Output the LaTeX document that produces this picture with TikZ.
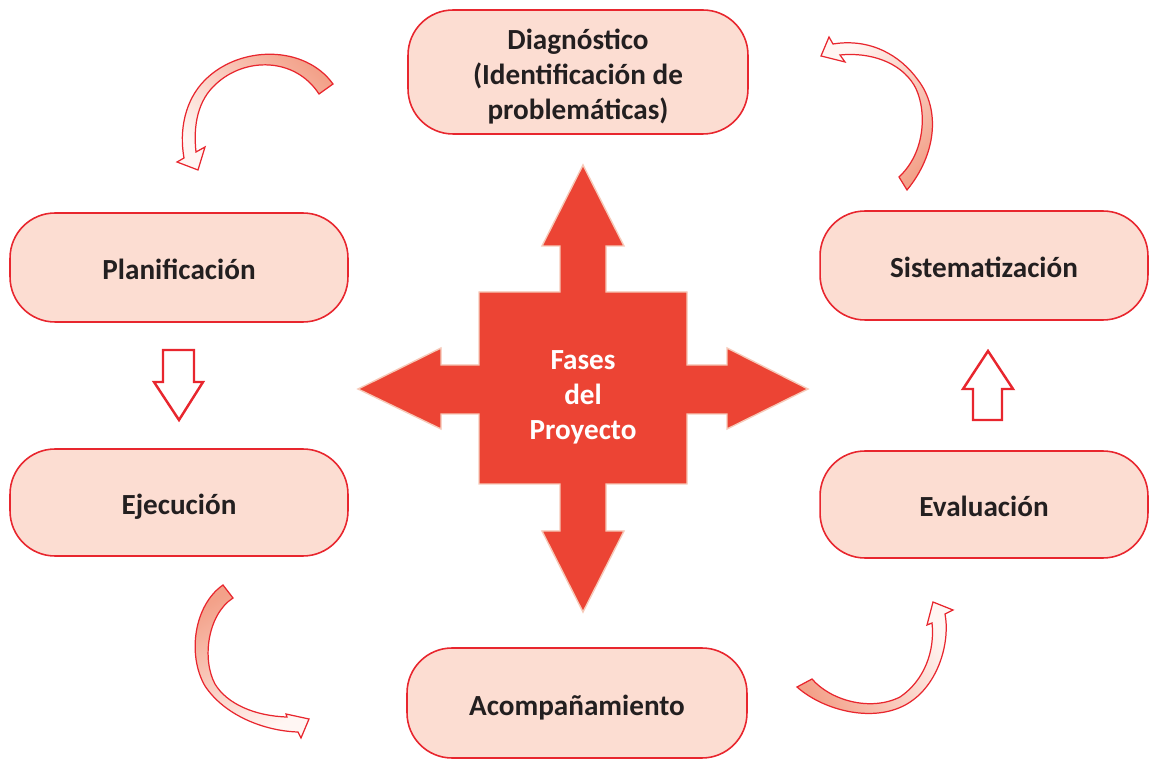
\documentclass[tikz,border=0pt]{standalone}
\usepackage{fontspec}
\setmainfont{Carlito}
\definecolor{boxred}{HTML}{E8262E}
\definecolor{boxfill}{HTML}{FCDDD2}
\definecolor{crossred}{HTML}{EC4434}
\definecolor{crossedge}{HTML}{F6C9B8}
\definecolor{salmon}{HTML}{F3A189}
\definecolor{paleend}{HTML}{FFF6F3}
\definecolor{textdark}{HTML}{231F20}
% set a (possibly multi-line) label a little below the box centre
\newcommand\phasetext[1]{\raisebox{-3pt}[\height][\depth]{\begin{tabular}{@{}c@{}}#1\end{tabular}}}
\tikzset{
  phase/.style={draw=boxred, fill=boxfill, line width=0.9pt, rounded corners=0.9cm,
    text=textdark, font=\bfseries\fontsize{16.6}{19.8}\selectfont, inner sep=0pt},
  hub/.style={text=white, font=\bfseries\fontsize{16.6}{19.8}\selectfont, inner sep=0pt},
  crossarrow/.style={fill=crossred, draw=crossedge, line width=0.8pt, line join=miter},
  hollow/.style={draw=boxred, fill=white, line width=1.4pt, line join=miter},
  curvearrow/.style={draw=boxred, line width=0.7pt, line join=miter},
}
\begin{document}
\begin{tikzpicture}[x=0.02cm, y=-0.02cm]
\useasboundingbox (0,0) rectangle (1149,759);

% phase boxes
\node[phase, minimum width=6.8cm, minimum height=2.48cm] (diag) at (578,72)
  {\phasetext{Diagnóstico\\(Identificación de\\problemáticas)}};
\node[phase, minimum width=6.76cm, minimum height=2.18cm] (plan) at (179,267.5) {\phasetext{Planificación}};
\node[phase, minimum width=6.76cm, minimum height=2.14cm] (ejec) at (179,502.5) {\phasetext{Ejecución}};
\node[phase, minimum width=6.8cm, minimum height=2.2cm] (acomp) at (577,703) {\phasetext{Acompañamiento}};
\node[phase, minimum width=6.56cm, minimum height=2.18cm] (sist) at (984,265.5) {\phasetext{Sistematización}};
\node[phase, minimum width=6.56cm, minimum height=2.14cm] (eval) at (984,504.5) {\phasetext{Evaluación}};

% central four-way arrow
\draw[crossarrow]
  (583,165) -- (624,246) -- (606,246) -- (606,292) -- (687,292) -- (687,365)
  -- (727,365) -- (727,348) -- (808,389) -- (727,429) -- (727,414) -- (687,414)
  -- (687,484) -- (606,484) -- (606,531) -- (624,531) -- (583,612) -- (542,531)
  -- (560,531) -- (560,484) -- (479,484) -- (479,414) -- (441,414) -- (441,429)
  -- (358,389) -- (441,348) -- (441,365) -- (479,365) -- (479,292) -- (560,292)
  -- (560,246) -- (542,246) -- cycle;
\node[hub] (hub) at (583,392) {\phasetext{Fases\\del\\Proyecto}};

% hollow block arrows
\draw[hollow] (163,350) -- (194,350) -- (194,382) -- (203,382) -- (179,420)
  -- (154,382) -- (163,382) -- cycle;
\draw[hollow] (973,420) -- (1002,420) -- (1002,389) -- (1013,389) -- (988,351)
  -- (963,389) -- (973,389) -- cycle;

% curved arrows
\draw[curvearrow, top color=salmon, bottom color=paleend, shading angle=-45]
  (333,84) .. controls (305,45) and (240,45) .. (205,80)
  .. controls (185,100) and (179,130) .. (184,158)
  -- (177,162) -- (198,170) -- (205,147) -- (196,152)
  .. controls (193,125) and (198,100) .. (216,84)
  .. controls (245,57) and (295,57) .. (319,94) -- cycle;

\draw[curvearrow, top color=salmon, bottom color=paleend, shading angle=-135]
  (907,190) .. controls (936,155) and (941,110) .. (918,80)
  .. controls (900,55) and (870,38) .. (833,44)
  -- (829,37) -- (821,56) -- (845,62) -- (840,55)
  .. controls (870,52) and (900,62) .. (914,85)
  .. controls (926,105) and (928,150) .. (899,177) -- cycle;

\draw[curvearrow, top color=salmon, bottom color=paleend, shading angle=30]
  (223,585) .. controls (194,605) and (187,655) .. (205,686)
  .. controls (225,716) and (265,731) .. (298,732)
  -- (301,738) -- (309,719) -- (286,714) -- (287,717)
  .. controls (255,716) and (227,704) .. (215,684)
  .. controls (202,660) and (207,615) .. (233,598) -- cycle;

\draw[curvearrow, top color=salmon, bottom color=paleend, shading angle=120]
  (797,687) .. controls (825,712) and (880,725) .. (913,700)
  .. controls (940,680) and (950,640) .. (945,614)
  -- (953,610) -- (933,602) -- (927,625) -- (932,623)
  .. controls (935,650) and (925,680) .. (900,697)
  .. controls (870,712) and (830,700) .. (812,679) -- cycle;
\end{tikzpicture}
\end{document}
